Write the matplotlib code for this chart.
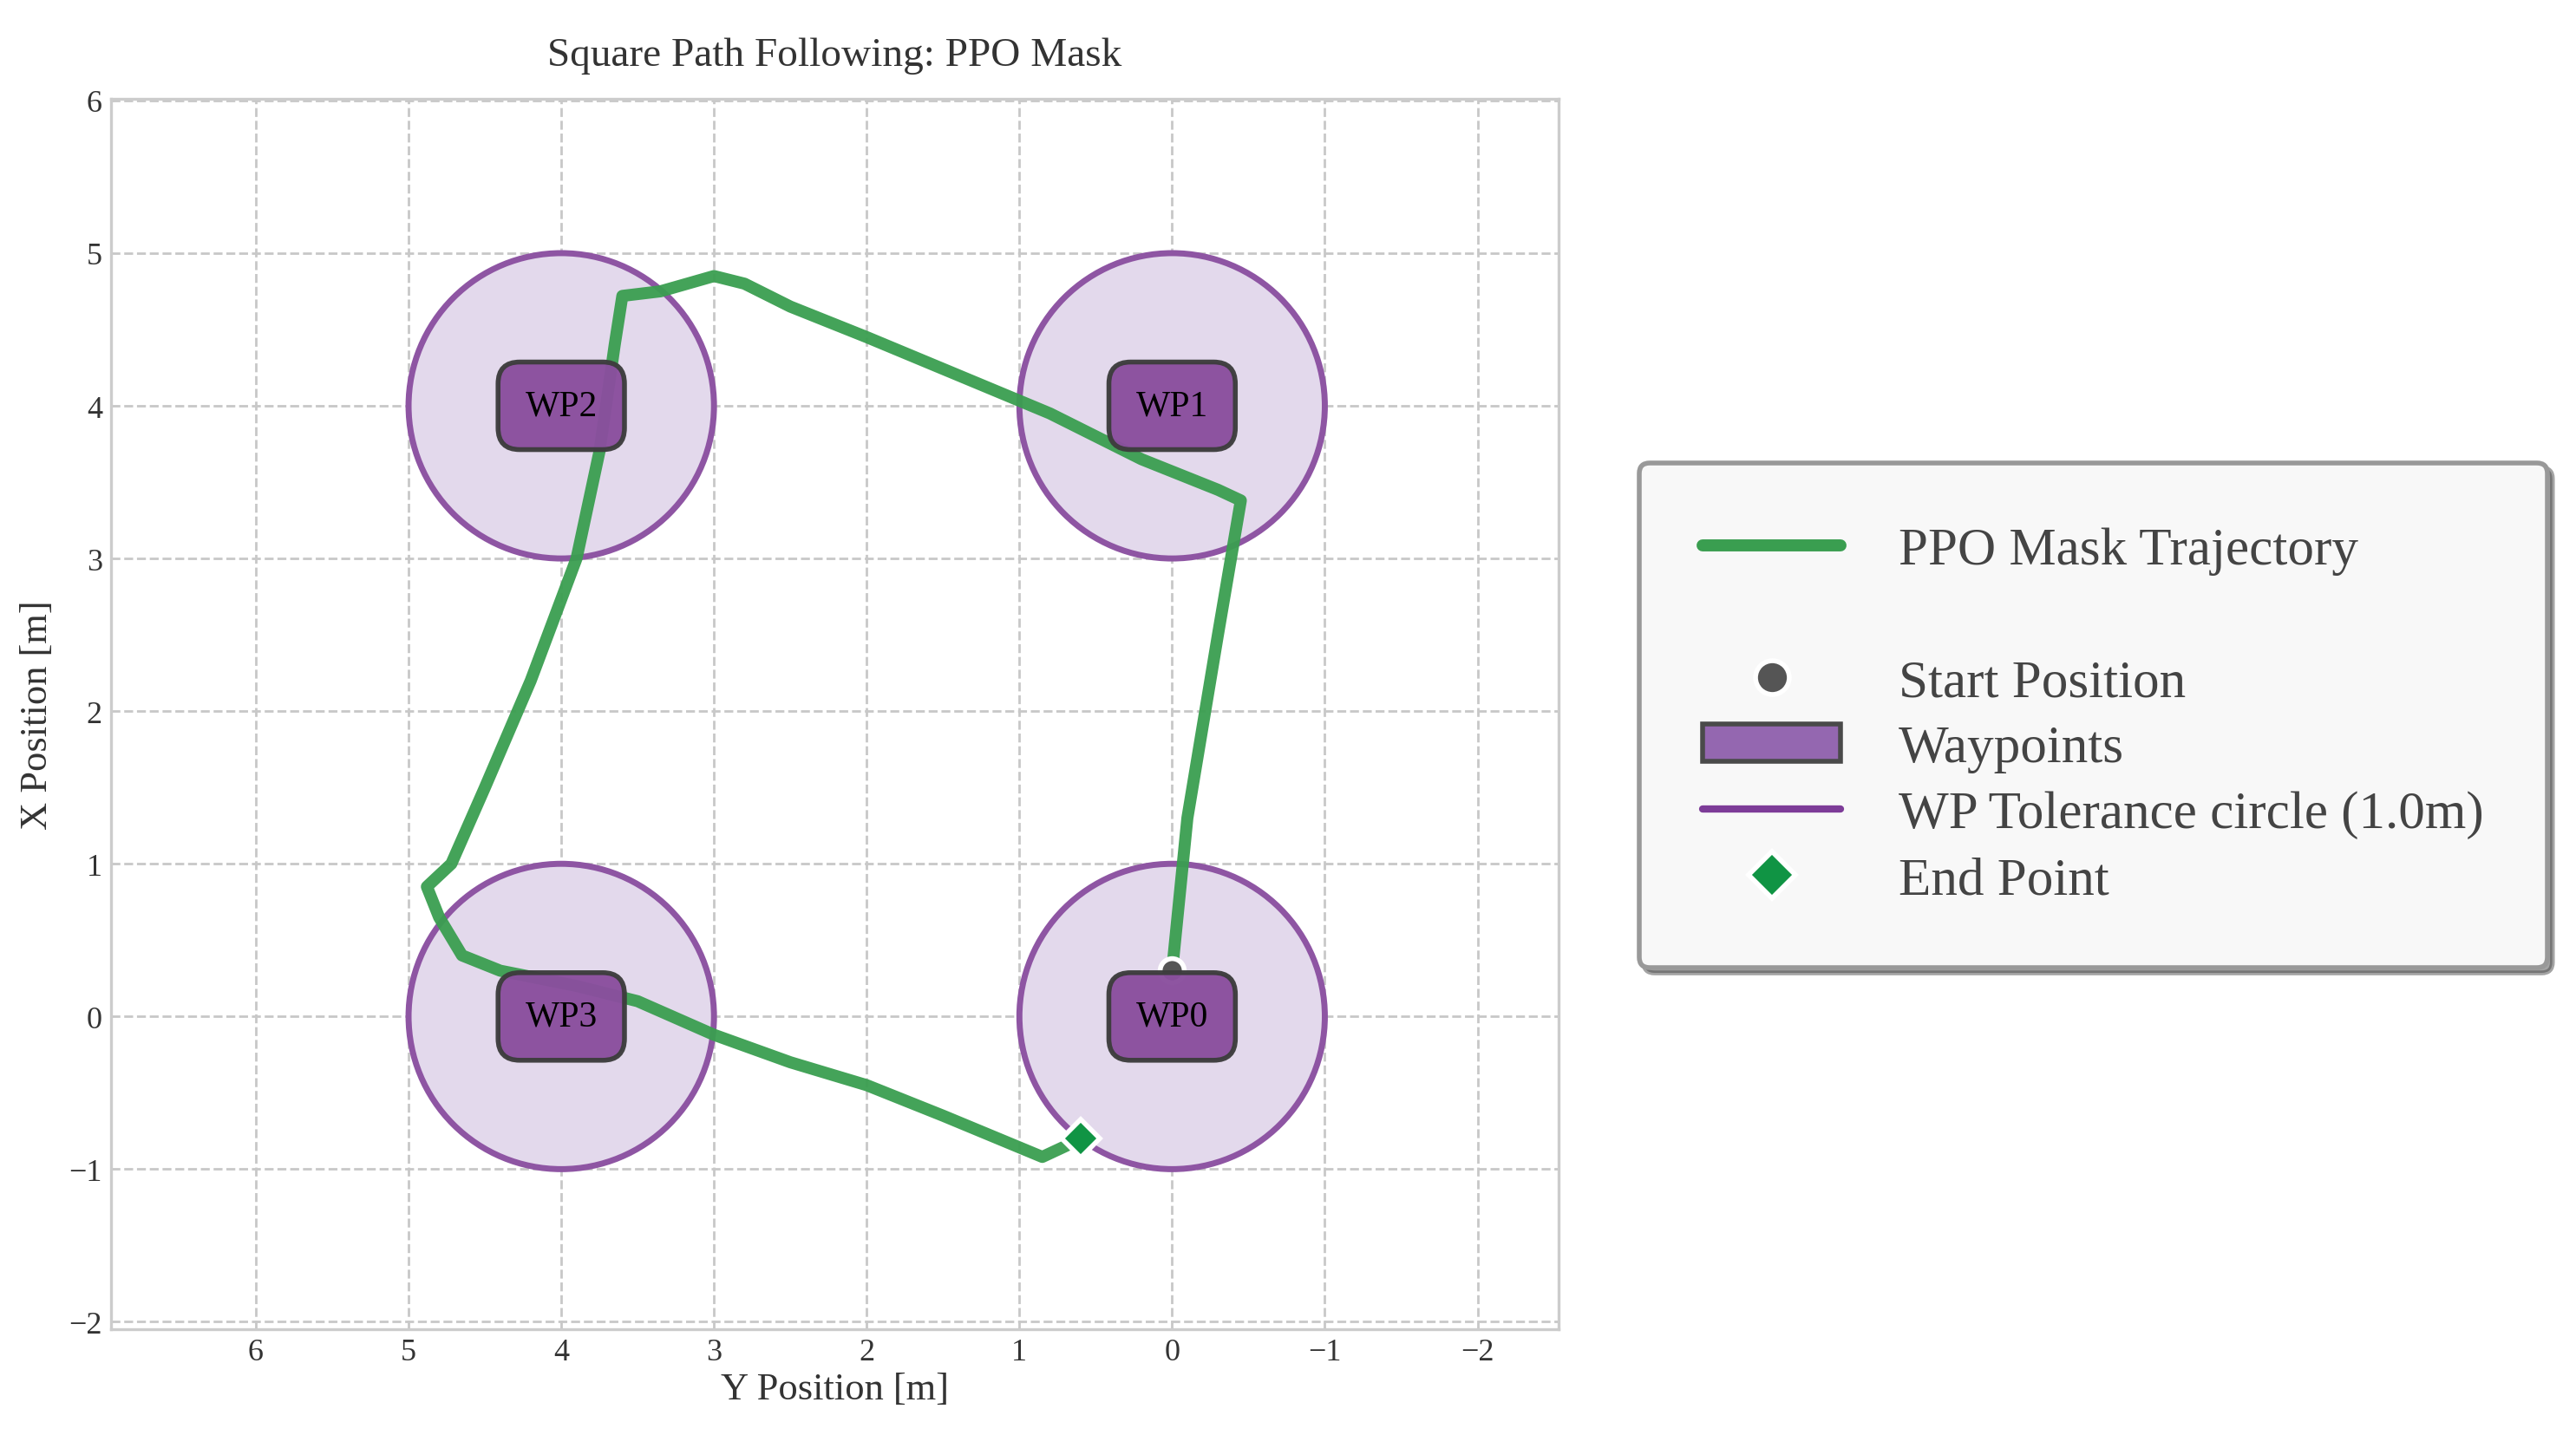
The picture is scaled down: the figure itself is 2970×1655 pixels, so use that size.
import matplotlib.pyplot as plt
from matplotlib.patches import Circle, Patch
from matplotlib.lines import Line2D

plt.rcParams['font.family'] = ['Liberation Serif', 'DejaVu Serif']

# trajectory: horizontal axis is Y position, vertical is X position
traj_y = [0.0, -0.1, -0.3, -0.45, -0.3, 0.2, 0.8, 1.4, 2.0, 2.5, 2.8, 3.0, 3.35, 3.6,
          3.65, 3.75, 3.9, 4.2, 4.5, 4.72, 4.88, 4.8, 4.65, 4.4, 3.9, 3.5, 3.0, 2.5,
          2.0, 1.5, 0.85, 0.7, 0.6]
traj_x = [0.3, 1.3, 2.5, 3.38, 3.45, 3.65, 3.95, 4.2, 4.45, 4.65, 4.8, 4.85, 4.75, 4.72,
          4.4, 3.7, 3.0, 2.2, 1.5, 1.0, 0.85, 0.65, 0.4, 0.3, 0.2, 0.1, -0.12, -0.3,
          -0.45, -0.65, -0.92, -0.85, -0.8]
wp_names = ['WP0', 'WP1', 'WP2', 'WP3']
wp_y = [0, 0, 4, 4]
wp_x = [0, 4, 4, 0]
tol = 1.0

green = '#3a9e50'
purple = '#8e55a3'

fig = plt.figure(figsize=(14.85, 8.28), dpi=200)
ax = fig.add_axes([0.043, 0.073, 0.562, 0.858])

for y, x in zip(wp_y, wp_x):
    ax.add_patch(Circle((y, x), tol, facecolor='#e3d9ec', edgecolor=purple, lw=2.5, zorder=2))

ax.plot(traj_y, traj_x, color=green, lw=5, alpha=0.95, solid_capstyle='round', zorder=3)
ax.plot(traj_y[0], traj_x[0], 'o', color='#555555', ms=10, mec='white', mew=2, zorder=3.5)

for name, y, x in zip(wp_names, wp_y, wp_x):
    ax.text(y, x, name, ha='center', va='center', fontsize=15, zorder=4,
            bbox=dict(boxstyle='round,pad=0.75,rounding_size=0.6', fc='#8a4f9e', ec='#3d3d3d',
                      lw=2, alpha=0.97))

ax.plot(traj_y[-1], traj_x[-1], 'D', color='#109444', ms=11, mec='white', mew=2, zorder=5)

ax.set_xlim(6.95, -2.53)
ax.set_ylim(-2.05, 6.01)
ax.set_aspect('equal')
ax.set_xticks(range(-2, 7))
ax.set_yticks(range(-2, 7))
ax.tick_params(labelsize=13, length=0, colors='#333333')
ax.grid(True, ls='--', color='#c8c8c8', lw=1)
ax.set_axisbelow(True)
for s in ax.spines.values():
    s.set_color('#cccccc')
    s.set_linewidth(1.2)
ax.set_xlabel('Y Position [m]', fontsize=16, color='#333333', labelpad=2)
ax.set_ylabel('X Position [m]', fontsize=16, color='#333333', labelpad=6)
ax.set_title('Square Path Following: PPO Mask', fontsize=17, color='#333333', pad=14)

handles = [
    Line2D([], [], color=green, lw=5, solid_capstyle='round'),
    Line2D([], [], color='none'),
    Line2D([], [], marker='o', color='none', mfc='#555555', mec='white', mew=2, ms=14),
    Patch(facecolor='#9467b0', edgecolor='#4a4a4a', lw=2),
    Line2D([], [], color='#7d3c98', lw=3, solid_capstyle='round'),
    Line2D([], [], marker='D', color='none', mfc='#109444', mec='white', mew=2, ms=14),
]
labels = ['PPO Mask Trajectory', ' ', 'Start Position', 'Waypoints',
          'WP Tolerance circle (1.0m)', 'End Point']
leg = fig.legend(handles, labels, loc='center left', bbox_to_anchor=(0.626, 0.501),
                 fontsize=22, frameon=True, fancybox=True, shadow=True, borderpad=1.2,
                 handlelength=2.6, handletextpad=1.1, labelspacing=0.33, facecolor='#f8f8f8',
                 edgecolor='#999999', labelcolor='#444444')
leg.get_frame().set_linewidth(2)
fig.add_artist(Line2D([0.727, 0.953], [0.579, 0.579], color='#999999', lw=2,
                      transform=fig.transFigure))

fig.savefig('out.png', dpi=200)
